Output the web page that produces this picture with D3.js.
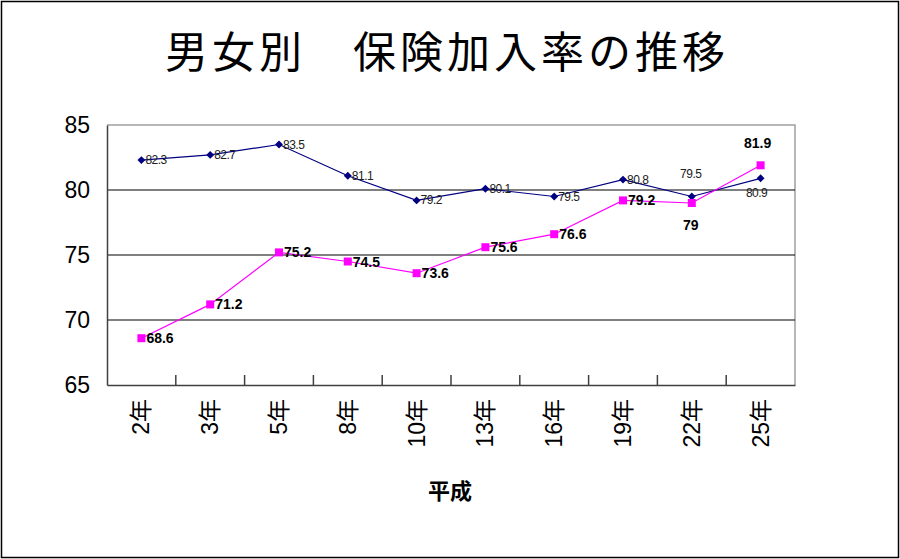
<!DOCTYPE html>
<html><head><meta charset="utf-8">
<script src="https://cdn.jsdelivr.net/npm/d3@7"></script>
<style>body{margin:0;background:#fff}svg{display:block}</style>
</head><body>
<svg id="c" width="900" height="559"></svg>
<script>
const categories = ["2年","3年","5年","8年","10年","13年","16年","19年","22年","25年"];
const seriesA = [82.3,82.7,83.5,81.1,79.2,80.1,79.5,80.8,79.5,80.9];
const seriesB = [68.6,71.2,75.2,74.5,73.6,75.6,76.6,79.2,79,81.9];
const yTicks = [65,70,75,80,85];
const title = "男女別　保険加入率の推移";
const xTitle = "平成";

const svg = d3.select("#c");
svg.append("rect").attr("x",1.5).attr("y",1.5).attr("width",897).attr("height",556)
  .attr("fill","#fff").attr("stroke","#000").attr("stroke-width",1.5);

const L=107,R=795,T=125,B=385;
const x = d3.scaleBand().domain(categories).range([L,R]);
const y = d3.scaleLinear().domain([65,85]).range([B,T]);
const cx = d => x(d)+x.bandwidth()/2;

svg.append("path").attr("d",`M${L},${T}H${R}V${B}`).attr("fill","none").attr("stroke","#a0a0a0").attr("stroke-width",1.5);
svg.append("g").selectAll("line").data(yTicks.filter(v=>v>65&&v<85)).join("line")
  .attr("x1",L).attr("x2",R).attr("y1",d=>y(d)).attr("y2",d=>y(d)).attr("stroke","#000").attr("stroke-width",1.2);

const ya = svg.append("g").attr("transform",`translate(${L},0)`).call(d3.axisLeft(y).tickValues(yTicks).tickSize(0).tickPadding(17));
ya.select(".domain").attr("stroke","#404040").attr("stroke-width",1.5);
ya.selectAll("text").attr("font-family","Arial, 'Liberation Sans', sans-serif").attr("font-size",23).attr("fill","#000");

const xa = svg.append("g").attr("transform",`translate(0,${B})`).call(d3.axisBottom(x).tickSize(0).tickFormat(""));
xa.select(".domain").attr("stroke","#404040").attr("stroke-width",1.5);
svg.append("g").selectAll("line").data(categories.slice(1)).join("line")
  .attr("x1",d=>x(d)).attr("x2",d=>x(d)).attr("y1",B).attr("y2",B-10).attr("stroke","#404040").attr("stroke-width",1.5);
svg.append("g").selectAll("text").data(categories).join("text")
  .attr("transform",d=>`translate(${cx(d)+8},399) rotate(-90)`)
  .attr("text-anchor","end").attr("font-family","Arial, 'Liberation Sans', 'Noto Sans CJK JP', sans-serif")
  .attr("font-size",23).attr("fill","#000").text(d=>d);

svg.append("text").attr("x",450).attr("y",499).attr("text-anchor","middle")
  .attr("font-family","'Noto Sans CJK JP', sans-serif").attr("font-weight","bold").attr("font-size",22).text(xTitle);

const line = d3.line().x((d,i)=>cx(categories[i])).y(d=>y(d));
svg.append("path").datum(seriesA).attr("d",line).attr("fill","none").attr("stroke","#000080").attr("stroke-width",1.2);
svg.append("path").datum(seriesB).attr("d",line).attr("fill","none").attr("stroke","#ff00ff").attr("stroke-width",1.2);

svg.append("g").selectAll("path").data(seriesA).join("path")
  .attr("d",d3.symbol(d3.symbolDiamond2,40)())
  .attr("transform",(d,i)=>`translate(${cx(categories[i])},${y(d)})`).attr("fill","#000080");
svg.append("g").selectAll("rect").data(seriesB).join("rect")
  .attr("x",(d,i)=>cx(categories[i])-4).attr("y",d=>y(d)-4).attr("width",8).attr("height",8).attr("fill","#ff00ff");

svg.append("g").selectAll("text").data(seriesA).join("text")
  .attr("x",(d,i)=> i===8? cx(categories[i])-1 : i===9? cx(categories[i])-4 : cx(categories[i])+4)
  .attr("y",(d,i)=> i===8? y(d)-19 : i===9? y(d)+19 : y(d)+4)
  .attr("text-anchor",(d,i)=> i>=8 ? "middle":"start")
  .attr("font-family","Arial, 'Liberation Sans', sans-serif").attr("font-size",12).attr("fill","#202020")
  .attr("letter-spacing",-0.5)
  .text(d=>d);
svg.append("g").selectAll("text").data(seriesB).join("text")
  .attr("x",(d,i)=> i===8? cx(categories[i])-1 : i===9? cx(categories[i])-3 : cx(categories[i])+5)
  .attr("y",(d,i)=> i===8? y(d)+27 : i===9? y(d)-17 : y(d)+5)
  .attr("text-anchor",(d,i)=> i>=8 ? "middle":"start")
  .attr("font-family","Arial, 'Liberation Sans', sans-serif").attr("font-weight","bold").attr("font-size",14).attr("fill","#000")
  .text(d=>d);

svg.append("text").attr("x",447).attr("y",68).attr("text-anchor","middle")
  .attr("font-family","'Noto Sans CJK JP', sans-serif").attr("font-weight",400).attr("font-size",43)
  .attr("letter-spacing",4).text(title);
</script>
</body></html>
